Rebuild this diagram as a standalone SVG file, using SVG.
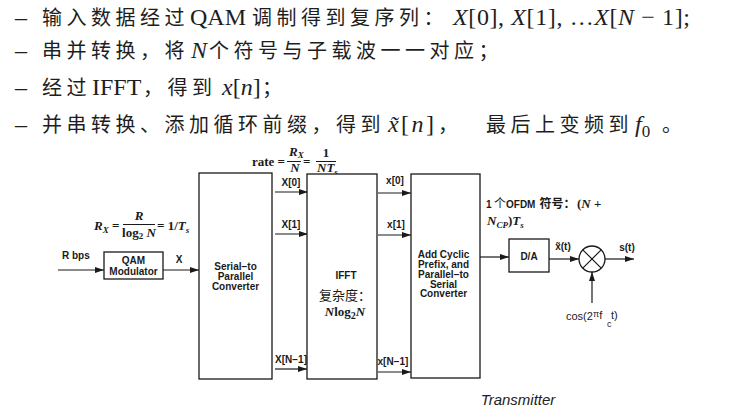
<svg xmlns="http://www.w3.org/2000/svg" width="749" height="410" viewBox="0 0 749 410">
<style>
.tx{fill:#1e1e1e}
.cn{font-family:"Noto Sans CJK SC",sans-serif;font-size:20px;letter-spacing:4.5px;fill:#1e1e1e}
.lat{font-family:"Liberation Serif","DejaVu Serif",serif;font-size:24px;fill:#1e1e1e}
.it{font-style:italic}
.box{fill:#fff;stroke:#1a1a1a;stroke-width:1.3}
.ln{fill:none;stroke:#1a1a1a;stroke-width:1.2}
.arr{marker-end:url(#ah)}
.bar{stroke:#1a1a1a;stroke-width:1}
.lbl{font-family:"Liberation Sans",Arial,sans-serif;font-weight:bold;font-size:10px;fill:#1a1a1a}
.mb{font-family:"Liberation Serif","DejaVu Serif",serif;font-weight:bold;font-size:13px;fill:#1a1a1a}
.cs{font-family:"Noto Sans CJK SC",sans-serif;fill:#1a1a1a}
.mid{text-anchor:middle}
</style>
<defs>
<marker id="ah" markerUnits="userSpaceOnUse" markerWidth="9" markerHeight="6" refX="9" refY="3" orient="auto"><path d="M0,0 L9,3 L0,6 z" fill="#1a1a1a"/></marker>
</defs>

<g id="bullets">
<text class="lat" x="15" y="25" font-size="20">–</text>
<text class="cn" x="42" y="25">输入数据经过</text>
<text class="lat" x="190" y="25" font-size="25">QAM</text>
<text class="cn" x="252" y="25">调制得到复序列：</text>
<text class="lat" x="453" y="25" textLength="237" lengthAdjust="spacing"><tspan class="it">X</tspan>[0], <tspan class="it">X</tspan>[1], …<tspan class="it">X</tspan>[<tspan class="it">N</tspan> − 1];</text>

<text class="lat" x="15" y="58" font-size="20">–</text>
<text class="cn" x="42" y="58">串并转换，将</text>
<text class="lat it" x="191" y="58">N</text>
<text class="cn" x="209" y="58">个符号与子载波一一对应；</text>

<text class="lat" x="15" y="95" font-size="20">–</text>
<text class="cn" x="42" y="95">经过</text>
<text class="lat" x="92" y="95" font-size="25">IFFT</text>
<text class="cn" x="143" y="95">，得到</text>
<text class="lat" x="222" y="95"><tspan class="it">x</tspan>[<tspan class="it">n</tspan>]</text>
<text class="cn" x="262" y="95">；</text>

<text class="lat" x="15" y="132" font-size="20">–</text>
<text class="cn" x="42" y="132">并串转换、添加循环前缀，得到</text>
<text class="lat" x="388" y="132" textLength="46" lengthAdjust="spacing"><tspan class="it">x̃</tspan>[<tspan class="it">n</tspan>]</text>
<text class="cn" x="438" y="132">，</text>
<text class="cn" x="486" y="132">最后上变频到</text>
<text class="lat it" x="635" y="132">f<tspan font-style="normal" font-size="17" dy="5">0</tspan></text>
<text class="cn" x="662" y="132">。</text>
</g>

<g id="formulas">
<text class="mb" x="252" y="166">rate =</text>
<text class="mb it" x="289" y="156">R<tspan font-size="9" dy="2">X</tspan></text>
<line class="bar" x1="287" y1="161.5" x2="301" y2="161.5"/>
<text class="mb it mid" x="295" y="172">N</text>
<text class="mb" x="303" y="166">=</text>
<text class="mb mid" x="326" y="157">1</text>
<line class="bar" x1="316" y1="161.5" x2="336" y2="161.5"/>
<text class="mb it" x="317" y="172">NT<tspan font-size="9" dy="3">s</tspan></text>

<text class="mb" x="94" y="230"><tspan class="it">R</tspan><tspan class="it" font-size="9" dy="3">X</tspan><tspan dy="-3"> =</tspan></text>
<text class="mb it mid" x="139" y="220">R</text>
<line class="bar" x1="123" y1="224.5" x2="155" y2="224.5"/>
<text class="mb mid" x="139" y="237">log<tspan font-size="9" dy="2">2</tspan><tspan class="it" dy="-2"> N</tspan></text>
<text class="mb" x="157" y="230">= 1/<tspan class="it">T</tspan><tspan class="it" font-size="9" dy="3">s</tspan></text>

<text class="lbl" font-size="12.5" x="486" y="208">1</text>
<text class="cs" font-size="12" x="494" y="208">个</text>
<text class="lbl" font-size="12" x="506" y="208">OFDM</text>
<text class="cs" font-size="12" font-weight="bold" x="539.5" y="208">符号：</text>
<text class="mb" x="577" y="208">(<tspan class="it">N</tspan> +</text>
<text class="mb it" x="487" y="225">N<tspan font-size="9" dy="3">CP</tspan><tspan font-style="normal" dy="-3">)</tspan>T<tspan font-size="9" dy="3">s</tspan></text>
</g>

<g id="connectors">
<line class="ln arr" x1="58" y1="270" x2="104" y2="270"/>
<line class="ln arr" x1="163" y1="270" x2="199" y2="270"/>
<line class="ln arr" x1="275" y1="192" x2="308" y2="192"/>
<line class="ln arr" x1="275" y1="234" x2="308" y2="234"/>
<line class="ln arr" x1="275" y1="369" x2="307" y2="369"/>
<line class="ln arr" x1="378" y1="193" x2="411" y2="193"/>
<line class="ln arr" x1="378" y1="235" x2="411" y2="235"/>
<line class="ln arr" x1="378" y1="372" x2="411" y2="372"/>
<line class="ln arr" x1="480" y1="257" x2="509" y2="257"/>
<line class="ln arr" x1="549" y1="259" x2="579" y2="259"/>
<line class="ln arr" x1="605" y1="259" x2="634" y2="259"/>
<line class="ln arr" x1="592" y1="303" x2="592" y2="272"/>
<text class="lbl" x="62" y="259">R bps</text>
<text class="lbl mid" x="179" y="263">X</text>
<text class="lbl mid" x="291" y="186">X[0]</text>
<text class="lbl mid" x="291" y="228">X[1]</text>
<text class="lbl mid" x="291" y="363">X[N−1]</text>
<text class="lbl mid" x="395" y="184">x[0]</text>
<text class="lbl mid" x="396" y="228">x[1]</text>
<text class="lbl mid" x="393" y="365">x[N−1]</text>
<text class="lbl mid" x="563" y="250">x̃(t)</text>
<text class="lbl mid" x="627" y="251">s(t)</text>
<text font-family="Liberation Sans,Arial,sans-serif" font-size="11" fill="#1a1a1a" x="566" y="320">cos(2<tspan font-size="9" dy="-3">π</tspan><tspan dy="2">f</tspan></text>
<text font-family="Liberation Sans,Arial,sans-serif" font-size="11" fill="#1a1a1a" x="611" y="319">t)</text>
<text font-family="Liberation Sans,Arial,sans-serif" font-size="9" fill="#1a1a1a" x="607" y="327">c</text>
</g>

<g id="qam">
<rect class="box" x="104" y="252" width="59" height="27"/>
<text class="lbl mid" x="133.5" y="264">QAM</text>
<text class="lbl mid" x="133.5" y="275">Modulator</text>
</g>
<g id="sp">
<rect class="box" x="199" y="173" width="73" height="206"/>
<text class="lbl mid" x="235.5" y="269.5">Serial−to</text>
<text class="lbl mid" x="235.5" y="279.5">Parallel</text>
<text class="lbl mid" x="235.5" y="289.5">Converter</text>
</g>
<g id="ifft">
<rect class="box" x="307" y="174" width="70" height="205"/>
<text class="lbl mid" x="346" y="279" font-size="11">IFFT</text>
<text class="cs mid" x="345" y="300" font-size="13">复杂度：</text>
<text class="mb mid" x="345" y="316" font-size="14"><tspan class="it">N</tspan>log<tspan font-size="10" dy="3">2</tspan><tspan class="it" dy="-3">N</tspan></text>
</g>
<g id="addcp">
<rect class="box" x="411" y="174" width="69" height="204"/>
<text class="lbl mid" x="443.5" y="258">Add Cyclic</text>
<text class="lbl mid" x="443.5" y="268">Prefix, and</text>
<text class="lbl mid" x="443.5" y="278">Parallel−to</text>
<text class="lbl mid" x="443.5" y="287.5">Serial</text>
<text class="lbl mid" x="443.5" y="297">Converter</text>
</g>
<g id="da">
<rect class="box" x="509" y="239" width="40" height="33"/>
<text class="lbl mid" x="529" y="260">D/A</text>
</g>
<g id="mixer">
<circle class="box" cx="592" cy="259" r="13"/>
<path class="ln" d="M582.8,249.8 L601.2,268.2 M601.2,249.8 L582.8,268.2"/>
</g>
<text font-family="Liberation Sans,Arial,sans-serif" font-style="italic" font-size="15" fill="#222" x="518" y="405" text-anchor="middle">Transmitter</text>
</svg>
